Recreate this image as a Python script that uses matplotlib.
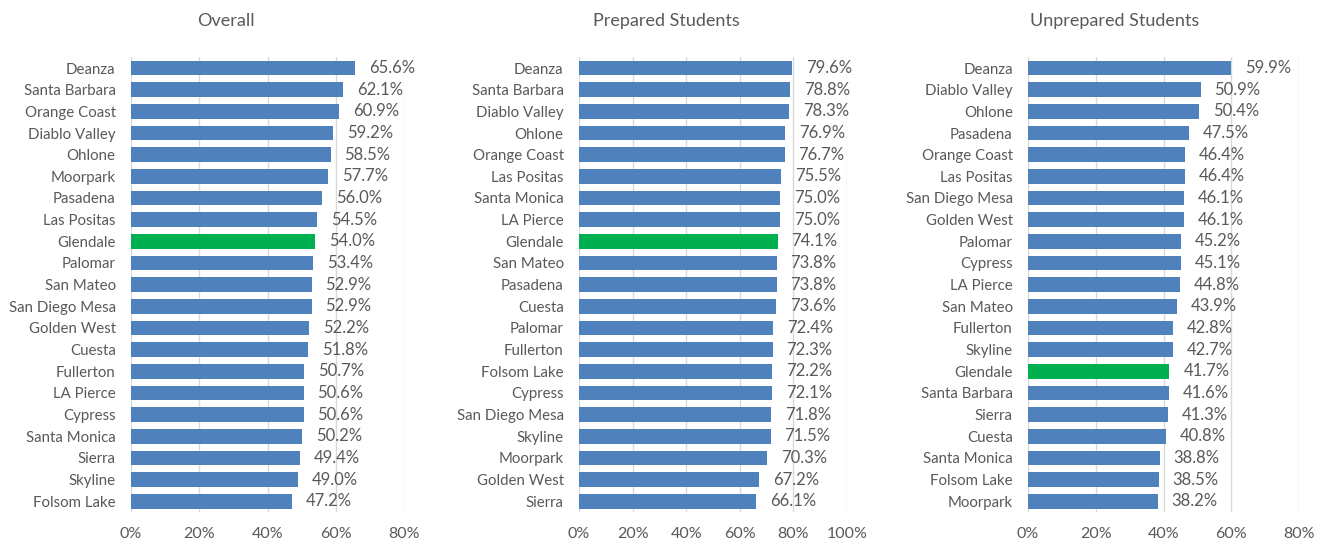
import matplotlib.pyplot as plt
from matplotlib.ticker import FuncFormatter

overall_names = ["Deanza", "Santa Barbara", "Orange Coast", "Diablo Valley", "Ohlone",
                 "Moorpark", "Pasadena", "Las Positas", "Glendale", "Palomar", "San Mateo",
                 "San Diego Mesa", "Golden West", "Cuesta", "Fullerton", "LA Pierce",
                 "Cypress", "Santa Monica", "Sierra", "Skyline", "Folsom Lake"]
overall_vals = [65.6, 62.1, 60.9, 59.2, 58.5, 57.7, 56.0, 54.5, 54.0, 53.4, 52.9,
                52.9, 52.2, 51.8, 50.7, 50.6, 50.6, 50.2, 49.4, 49.0, 47.2]

prepared_names = ["Deanza", "Santa Barbara", "Diablo Valley", "Ohlone", "Orange Coast",
                  "Las Positas", "Santa Monica", "LA Pierce", "Glendale", "San Mateo",
                  "Pasadena", "Cuesta", "Palomar", "Fullerton", "Folsom Lake", "Cypress",
                  "San Diego Mesa", "Skyline", "Moorpark", "Golden West", "Sierra"]
prepared_vals = [79.6, 78.8, 78.3, 76.9, 76.7, 75.5, 75.0, 75.0, 74.1, 73.8,
                 73.8, 73.6, 72.4, 72.3, 72.2, 72.1, 71.8, 71.5, 70.3, 67.2, 66.1]

unprepared_names = ["Deanza", "Diablo Valley", "Ohlone", "Pasadena", "Orange Coast",
                    "Las Positas", "San Diego Mesa", "Golden West", "Palomar", "Cypress",
                    "LA Pierce", "San Mateo", "Fullerton", "Skyline", "Glendale",
                    "Santa Barbara", "Sierra", "Cuesta", "Santa Monica", "Folsom Lake", "Moorpark"]
unprepared_vals = [59.9, 50.9, 50.4, 47.5, 46.4, 46.4, 46.1, 46.1, 45.2, 45.1,
                   44.8, 43.9, 42.8, 42.7, 41.7, 41.6, 41.3, 40.8, 38.8, 38.5, 38.2]

titles = ["Overall", "Prepared Students", "Unprepared Students"]
xmax = [80, 100, 80]

BLUE = "#4F81BD"
GREEN = "#00B050"
GRAY = "#595959"

plt.rcParams['font.family'] = ['Lato', 'DejaVu Sans']

fig = plt.figure(figsize=(13.3, 5.5), dpi=100)
lefts = [0.0985, 0.4353, 0.773]
widths = [0.2053, 0.2015, 0.2038]
title_x = [226 / 1330, 666 / 1330, 1115 / 1330]

data = [(overall_names, overall_vals), (prepared_names, prepared_vals),
        (unprepared_names, unprepared_vals)]

for i, (names, vals) in enumerate(data):
    ax = fig.add_axes([lefts[i], 0.069, widths[i], 0.827])
    pos = list(range(len(names)))
    colors = [GREEN if n == "Glendale" else BLUE for n in names]
    bars = ax.barh(pos, vals, height=0.68, color=colors, zorder=3)
    ax.set_yticks(pos)
    ax.set_yticklabels(names, fontsize=10.8, color=GRAY)
    ax.invert_yaxis()
    ax.set_ylim(len(names) - 0.5, -0.5)
    ax.set_xlim(0, xmax[i])
    ax.set_xticks(range(0, xmax[i] + 1, 20))
    ax.xaxis.set_major_formatter(FuncFormatter(lambda v, p: f"{v:.0f}%"))
    ax.tick_params(axis='x', labelsize=11.5, colors=GRAY, length=0, pad=11)
    ax.tick_params(axis='y', length=0, pad=11)
    ax.grid(axis='x', color="#D9D9D9", linewidth=1, zorder=0)
    for s in ax.spines.values():
        s.set_visible(False)
    ax.bar_label(bars, labels=[f"{v:.1f}%" for v in vals], padding=10,
                 fontsize=12, color=GRAY)
    fig.text(title_x[i], 0.962, titles[i], ha='center', va='center',
             fontsize=13, color=GRAY)

fig.savefig("out.png", dpi=100)
